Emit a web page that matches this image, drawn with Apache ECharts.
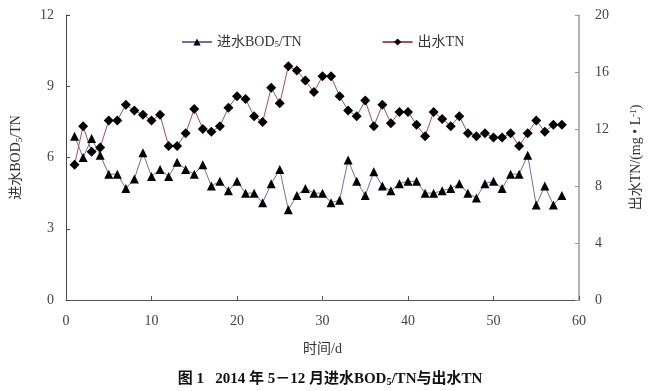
<!DOCTYPE html>
<html><head><meta charset="utf-8">
<script src="https://cdn.jsdelivr.net/npm/echarts@6/dist/echarts.min.js"></script>
<style>html,body{margin:0;padding:0;background:#fff}#c{width:660px;height:391px}</style>
</head><body><div id="c"></div>
<script>
var days = [1,2,3,4,5,6,7,8,9,10,11,12,13,14,15,16,17,18,19,20,21,22,23,24,25,26,27,28,29,30,31,32,33,34,35,36,37,38,39,40,41,42,43,44,45,46,47,48,49,50,51,52,53,54,55,56,57,58];
var bodTn = [6.9,6.0,6.8,6.1,5.3,5.3,4.7,5.1,6.2,5.2, 5.5,5.2,5.8,5.5,5.3,5.7,4.8,5.0,4.6,5.0, 4.5,4.5,4.1,4.9,5.5,3.8,4.4,4.7,4.5,4.5, 4.1,4.2,5.9,5.0,4.4,5.4,4.8,4.6,4.9,5.0, 5.0,4.5,4.5,4.6,4.7,4.9,4.5,4.3,4.9,5.0, 4.7,5.3,5.3,6.1,4.0,4.8,4.0,4.4];
var effTn = [9.5,12.2,10.4,10.7,12.6,12.6,13.7,13.3,13.0,12.6, 13.0,10.8,10.8,11.7,13.4,12.0,11.8,12.2,13.5,14.3, 14.1,12.9,12.5,14.9,13.8,16.4,16.1,15.4,14.6,15.7, 15.7,14.3,13.3,12.9,14.0,12.2,13.7,12.4,13.2,13.2, 12.3,11.5,13.2,12.7,12.2,12.9,11.7,11.5,11.7,11.4, 11.4,11.7,10.8,11.7,12.6,11.8,12.3,12.3];
var xTicks = [0,10,20,30,40,50,60];
var leftTicks = [0,3,6,9,12];
var rightTicks = [0,4,8,12,16,20];

var serif = "'Liberation Serif','Noto Sans CJK SC',serif";
function pairs(ys){ return days.map(function(d,i){ return [d, ys[i]]; }); }
var chart = echarts.init(document.getElementById('c'));
var subRich = { sub: { fontSize: 9, verticalAlign: 'bottom', padding:[6,0,0,0], fontFamily: serif, color:'#333' } };
chart.setOption({
  animation: false,
  textStyle: { fontFamily: serif },
  grid: { left: 66, right: 81, top: 15, bottom: 91 },
  title: {
    text: '图 1   2014 年 5－12 月进水BOD{s|5}/TN与出水TN',
    left: 'center', top: 366,
    textStyle: { fontSize: 15, fontWeight: 'bold', color: '#111', fontFamily: serif,
      rich: { s: { fontSize: 10, fontWeight: 'bold', verticalAlign: 'bottom', padding:[6,0,0,0], color:'#111', fontFamily: serif } } }
  },
  legend: {
    left: 176, top: 30, itemWidth: 30, itemHeight: 9, itemGap: 80,
    data: ['bod', 'tn'],
    formatter: function(n){ return n === 'bod' ? '进水BOD{sub|5}/TN' : '出水TN'; },
    textStyle: { fontSize: 14, color: '#333', fontFamily: serif, rich: subRich }
  },
  xAxis: {
    type: 'value', min: xTicks[0], max: xTicks[xTicks.length-1], interval: 10,
    name: '时间/d', nameLocation: 'middle', nameGap: 42,
    nameTextStyle: { fontSize: 14, color: '#333', fontFamily: serif },
    axisLine: { lineStyle: { color: '#555', width: 1 } },
    axisTick: { inside: true, length: 4, lineStyle: { color: '#555' } },
    axisLabel: { fontSize: 14, color: '#444', margin: 14, fontFamily: serif },
    splitLine: { show: false }
  },
  yAxis: [{
    type: 'value', min: leftTicks[0], max: leftTicks[leftTicks.length-1], interval: 3,
    name: '进水BOD{sub|5}/TN', nameLocation: 'middle', nameGap: 42, nameRotate: 90,
    nameTextStyle: { fontSize: 14, color: '#333', fontFamily: serif, rich: subRich },
    axisLine: { show: true, lineStyle: { color: '#444', width: 1 } },
    axisTick: { show: true, inside: true, length: 4, lineStyle: { color: '#444' } },
    axisLabel: { fontSize: 14, color: '#444', margin: 12, fontFamily: serif },
    splitLine: { show: false }
  }, {
    type: 'value', position: 'right', min: rightTicks[0], max: rightTicks[rightTicks.length-1], interval: 4,
    name: '出水TN/(mg • L{sup|-1})', nameLocation: 'middle', nameGap: 50, nameRotate: 90,
    nameTextStyle: { fontSize: 14, color: '#333', fontFamily: serif,
      rich: { sup: { fontSize: 9, verticalAlign: 'top', padding:[0,0,6,0], color:'#333', fontFamily: serif } } },
    axisLine: { show: true, lineStyle: { color: '#999', width: 1.5 } },
    axisTick: { show: true, inside: true, length: 4, lineStyle: { color: '#999' } },
    axisLabel: { fontSize: 14, color: '#444', margin: 16, fontFamily: serif },
    splitLine: { show: false }
  }],
  series: [{
    name: 'bod', type: 'line', yAxisIndex: 0, data: pairs(bodTn),
    symbol: 'triangle', symbolSize: 9,
    lineStyle: { color: '#6f6fa3', width: 1 },
    itemStyle: { color: '#000', borderWidth: 0 },
    z: 3
  }, {
    name: 'tn', type: 'line', yAxisIndex: 1, data: pairs(effTn),
    symbol: 'diamond', symbolSize: 10,
    lineStyle: { color: '#a04d68', width: 1 },
    itemStyle: { color: '#000', borderWidth: 0 },
    z: 3
  }]
});
</script></body></html>
